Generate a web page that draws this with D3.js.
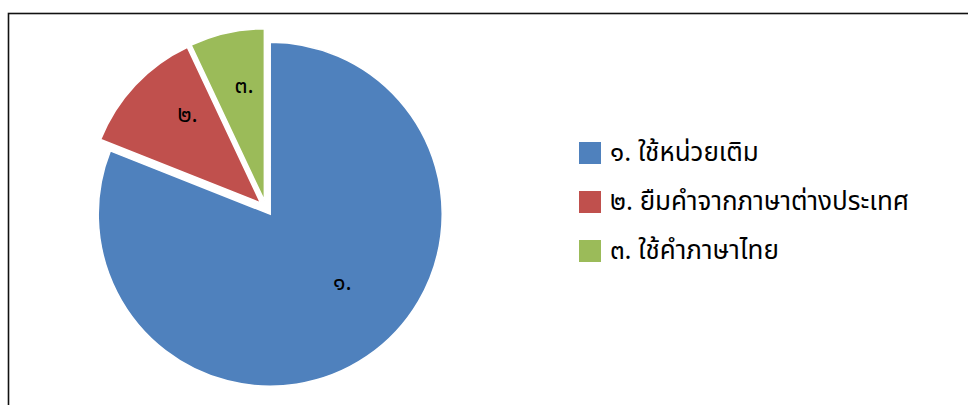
<!DOCTYPE html>
<html>
<head>
<meta charset="utf-8">
<script src="https://cdn.jsdelivr.net/npm/d3@7"></script>
<style>
  html, body { margin: 0; padding: 0; background: #fff; }
  svg { display: block; }
  text { font-family: "Noto Sans Thai", "Noto Sans", "DejaVu Sans", sans-serif; fill: #000; }
</style>
</head>
<body>
<svg id="chart" width="968" height="405"></svg>
<script>
// Share of each category (percent)
const categories = ["๑. ใช้หน่วยเติม", "๒. ยืมคำจากภาษาต่างประเทศ", "๓. ใช้คำภาษาไทย"];
const sliceLabels = ["๑.", "๒.", "๓."];
const values = [81, 12, 7];
const colors = ["#4f81bd", "#c0504d", "#9bbb59"];

const svg = d3.select("#chart");
const W = 968, H = 405;

// chart frame (left and top edges visible in the window)
svg.append("rect")
  .attr("x", 8.5).attr("y", 13.5)
  .attr("width", W + 20).attr("height", H + 20)
  .attr("fill", "#fff")
  .attr("stroke", "#111").attr("stroke-width", 1.6);

const cx = 266, cy = 208, r = 172, explode = 7.5;

const pie = d3.pie().sort(null).value(d => d).startAngle(0).endAngle(2 * Math.PI);
const arcs = pie(values);
const arc = d3.arc().innerRadius(0).outerRadius(r);

const g = svg.append("g").attr("transform", `translate(${cx},${cy})`);

const mid = d => (d.startAngle + d.endAngle) / 2;

const slices = g.selectAll("g.slice").data(arcs).enter().append("g")
  .attr("class", "slice")
  .attr("transform", d => `translate(${explode * Math.sin(mid(d))},${-explode * Math.cos(mid(d))})`);

slices.append("path")
  .attr("d", arc)
  .attr("fill", (d, i) => colors[i])
  .attr("stroke", "#fff")
  .attr("stroke-width", 1.5);

// in-slice labels: placed a little off each slice's bisector, like the office "best fit" layout
const labelRadius = [100, 114, 116];
const labelTurn = [-12, 7, 2.5].map(a => a * Math.PI / 180);
slices.append("text")
  .attr("x", (d, i) => labelRadius[i] * Math.sin(mid(d) + labelTurn[i]))
  .attr("y", (d, i) => -labelRadius[i] * Math.cos(mid(d) + labelTurn[i]))
  .attr("text-anchor", "middle")
  .attr("dominant-baseline", "middle")
  .attr("font-size", 23)
  .text((d, i) => sliceLabels[i]);

// legend
const legend = svg.append("g").attr("transform", "translate(579,142)");
const items = legend.selectAll("g").data(categories).enter().append("g")
  .attr("transform", (d, i) => `translate(0,${i * 49})`);
items.append("rect")
  .attr("width", 22).attr("height", 22)
  .attr("fill", (d, i) => colors[i]);
items.append("text")
  .attr("x", 31).attr("y", 19)
  .attr("font-size", 26)
  .text(d => d);
</script>
</body>
</html>
